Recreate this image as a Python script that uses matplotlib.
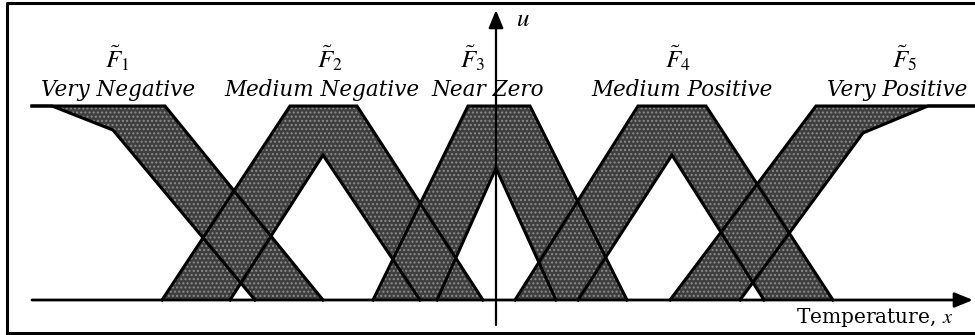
import matplotlib
matplotlib.use("Agg")
import matplotlib.pyplot as plt

# ---------------- data ----------------
set_symbols = [r"$\tilde{F}_1$", r"$\tilde{F}_2$", r"$\tilde{F}_3$", r"$\tilde{F}_4$", r"$\tilde{F}_5$"]
set_names = ["Very Negative", "Medium Negative", "Near Zero", "Medium Positive", "Very Positive"]

# upper membership functions (x breakpoints, u values)
upper_x = [
    [-46.4, -33.1, -17.3],
    [-33.4, -20.6, -13.9, -1.3],
    [-12.3, -2.8, 3.4, 13.1],
    [1.9, 14.2, 21.0, 33.7],
    [17.4, 32.0, 47.9],
]
upper_u = [
    [1.0, 1.0, 0.0],
    [0.0, 1.0, 1.0, 0.0],
    [0.0, 1.0, 1.0, 0.0],
    [0.0, 1.0, 1.0, 0.0],
    [0.0, 1.0, 1.0],
]
# lower membership functions
lower_x = [
    [-46.4, -44.4, -38.3, -24.1],
    [-26.6, -17.3, -7.6],
    [-5.9, 0.0, 6.0],
    [8.2, 17.6, 26.8],
    [24.4, 36.7, 43.2, 47.9],
]
lower_u = [
    [1.0, 1.0, 0.876, 0.0],
    [0.0, 0.747, 0.0],
    [0.0, 0.68, 0.0],
    [0.0, 0.747, 0.0],
    [0.0, 0.861, 1.0, 1.0],
]
x_min, x_max = -46.4, 47.7

# ---------------- figure ----------------
plt.rcParams["hatch.linewidth"] = 1.0
plt.rcParams["mathtext.fontset"] = "stix"

fig = plt.figure(figsize=(9.75, 3.35), dpi=100)
ax = fig.add_axes([0, 0, 1, 1])
ax.set_xlim(-49.6, 47.9)
ax.set_ylim(-0.1804, 1.5464)
ax.axis("off")

face = "#3e3e3e"
dots = "#8c8c8c"
for ux, uu, lx, lu in zip(upper_x, upper_u, lower_x, lower_u):
    px = list(ux) + list(lx[::-1])
    pu = list(uu) + list(lu[::-1])
    ax.fill(px, pu, facecolor=face, edgecolor=dots, hatch="....", linewidth=0, zorder=1)

for ux, uu, lx, lu in zip(upper_x, upper_u, lower_x, lower_u):
    ax.plot(ux, uu, color="black", lw=2.2, solid_joinstyle="miter", zorder=3)
    ax.plot(lx, lu, color="black", lw=2.2, solid_joinstyle="miter", zorder=3)

# axes arrows
ax.annotate("", xy=(x_max, 0), xytext=(x_min, 0),
            arrowprops=dict(arrowstyle="-|>,head_length=1.1,head_width=0.45", color="black",
                            lw=2.0, shrinkA=0, shrinkB=0), zorder=4)
ax.annotate("", xy=(0, 1.495), xytext=(0, -0.129),
            arrowprops=dict(arrowstyle="-|>,head_length=1.1,head_width=0.45", color="black",
                            lw=1.6, shrinkA=0, shrinkB=0), zorder=4)

# labels
sym_x = [-37.9, -16.6, -2.3, 18.2, 40.9]
name_x = [-37.8, -17.4, -0.8, 18.6, 40.1]
for s, n, sx, nx in zip(set_symbols, set_names, sym_x, name_x):
    ax.text(sx, 1.245, s, ha="center", va="center", fontsize=18, zorder=5)
    ax.text(nx, 1.08, n, ha="center", va="center", fontsize=15.5,
            family="DejaVu Serif", style="italic", zorder=5)

ax.text(2.0, 1.45, r"$u$", ha="left", va="center", fontsize=18, zorder=5)
ax.text(37.9, -0.088, r"Temperature, $x$", ha="center", va="center", fontsize=14.5,
        family="DejaVu Serif", zorder=5)

# frame
ax.plot([0.007, 0.007, 1.1], [-0.1, 0.991, 0.991], transform=ax.transAxes,
        color="black", lw=2.2, clip_on=False)
ax.plot([0.007, 1.1], [0.006, 0.006], transform=ax.transAxes,
        color="black", lw=2.2, clip_on=False)

fig.savefig("out.png", dpi=100)
